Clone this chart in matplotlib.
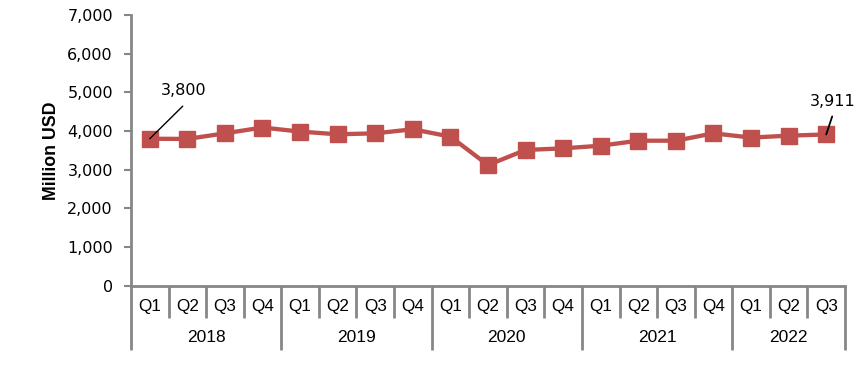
import matplotlib
matplotlib.use("Agg")
import matplotlib.pyplot as plt
import matplotlib.transforms as mtransforms

years = ["2018", "2019", "2020", "2021", "2022"]
quarters = ["Q1", "Q2", "Q3", "Q4", "Q1", "Q2", "Q3", "Q4", "Q1", "Q2", "Q3", "Q4",
            "Q1", "Q2", "Q3", "Q4", "Q1", "Q2", "Q3"]
quarters_per_year = [4, 4, 4, 4, 3]
values = [3800, 3795, 3940, 4090, 3985, 3915, 3940, 4045, 3855, 3120, 3510, 3552,
          3620, 3750, 3750, 3940, 3830, 3880, 3911]
yticks = [0, 1000, 2000, 3000, 4000, 5000, 6000, 7000]
ytick_labels = ["0", "1,000", "2,000", "3,000", "4,000", "5,000", "6,000", "7,000"]

red = "#C0504D"
gray = "#868686"

fig = plt.figure(figsize=(8.61, 3.8), dpi=100)
ax = fig.add_axes([0.1521, 0.2482, 0.9814 - 0.1521, 0.9605 - 0.2482])

x = list(range(len(values)))
ax.plot(x, values, color=red, lw=3.1, marker="s", markersize=11, zorder=3)

ax.set_xlim(-0.5, len(values) - 0.5)
ax.set_ylim(0, 7000)
ax.set_yticks(yticks)
ax.set_yticklabels(ytick_labels, fontsize=11.5, family="DejaVu Sans")
ax.tick_params(axis="y", length=5, width=1.5, color=gray, pad=8)
ax.set_xticks([])

for s in ["top", "right"]:
    ax.spines[s].set_visible(False)
for s in ["left", "bottom"]:
    ax.spines[s].set_color(gray)
    ax.spines[s].set_linewidth(2)

ax.set_ylabel("Million USD", fontsize=12.8, fontweight="bold", family="Liberation Sans", labelpad=5)

trans = mtransforms.blended_transform_factory(ax.transData, ax.transAxes)
q_bottom = -0.119
y_bottom = -0.2375
for i, q in enumerate(quarters):
    ax.text(i, -0.076, q, transform=trans, ha="center", va="center",
            fontsize=12.3, family="Liberation Sans")
year_bounds = [-0.5]
acc = -0.5
for n in quarters_per_year:
    acc += n
    year_bounds.append(acc)
for b in [i - 0.5 for i in range(len(values) + 1)]:
    bottom = y_bottom if b in year_bounds else q_bottom
    ax.plot([b, b], [0, bottom], transform=trans, color=gray, lw=2, clip_on=False,
            solid_capstyle="butt")
for k, yr in enumerate(years):
    c = (year_bounds[k] + year_bounds[k + 1]) / 2
    ax.text(c, -0.193, yr, transform=trans, ha="center", va="center",
            fontsize=12.5, family="Liberation Sans")

px = 0.72
first, last = 0, len(values) - 1
ax.annotate("", xy=(first, values[first]), xytext=(33 * px, 32.6 * px),
            textcoords="offset points",
            arrowprops=dict(arrowstyle="-", color="black", lw=1, shrinkA=0, shrinkB=0))
ax.annotate("3,800", xy=(first, values[first]), xytext=(34 * px, 48 * px),
            textcoords="offset points", ha="center", va="center", fontsize=11.5)
ax.annotate("", xy=(last, values[last]), xytext=(6 * px, 18 * px),
            textcoords="offset points",
            arrowprops=dict(arrowstyle="-", color="black", lw=1.3, shrinkA=0, shrinkB=0))
ax.annotate("3,911", xy=(last, values[last]), xytext=(6 * px, 32.5 * px),
            textcoords="offset points", ha="center", va="center", fontsize=11.5)

fig.savefig("out.png", dpi=100)
